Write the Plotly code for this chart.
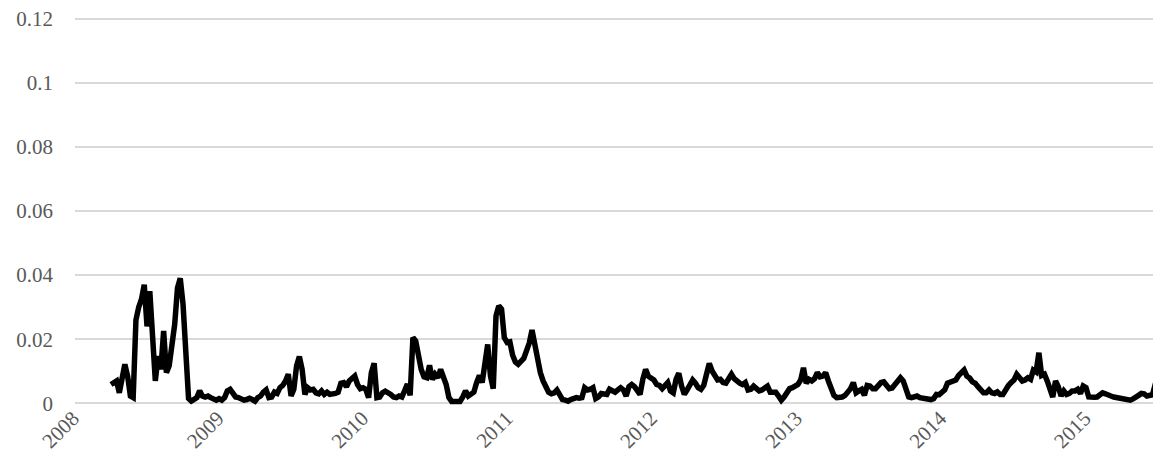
import pandas as pd
import plotly.graph_objects as go

# weekly observations, starting 2008-04-01
start_date = "2008-04-01"

values = [
    # 2008
    0.0059, 0.0065, 0.0070, 0.0033, 0.0085, 0.0122, 0.0085, 0.0023, 0.0018, 0.0260,
    0.0300, 0.0325, 0.0370, 0.0240, 0.0350, 0.0170, 0.0070, 0.0148, 0.0106, 0.0226,
    0.0096, 0.0117, 0.0169, 0.0247, 0.0360, 0.0390, 0.0310, 0.0117, 0.0015, 0.0007,
    0.0012, 0.0018, 0.0039, 0.0023, 0.0020, 0.0023, 0.0018, 0.0015, 0.0010, 0.0015,
    0.0010, 0.0018, 0.0039, 0.0044, 0.0028, 0.0020, 0.0018, 0.0015, 0.0010, 0.0012,
    0.0016, 0.0012,
    # 2009
    0.0007, 0.0018, 0.0023, 0.0035, 0.0042, 0.0018, 0.0020, 0.0035, 0.0031, 0.0049,
    0.0056, 0.0070, 0.0091, 0.0023, 0.0044, 0.0117, 0.0146, 0.0106, 0.0028, 0.0049,
    0.0042, 0.0044, 0.0033, 0.0030, 0.0039, 0.0028, 0.0035, 0.0028, 0.0028, 0.0031,
    0.0035, 0.0063, 0.0065, 0.0052, 0.0070, 0.0080, 0.0085, 0.0059, 0.0046, 0.0049,
    0.0044, 0.0018, 0.0096, 0.0125, 0.0018, 0.0020, 0.0033, 0.0038, 0.0035, 0.0028,
    0.0020, 0.0018, 0.0023, 0.0020, 0.0039, 0.0060,
    # 2010
    0.0025, 0.0205, 0.0195, 0.0150, 0.0106, 0.0083, 0.0080, 0.0119, 0.0075, 0.0091,
    0.0080, 0.0106, 0.0085, 0.0059, 0.0018, 0.0006, 0.0006, 0.0007, 0.0006, 0.0020,
    0.0039, 0.0023, 0.0028, 0.0035, 0.0065, 0.0087, 0.0065, 0.0127, 0.0184, 0.0085,
    0.0046, 0.0273, 0.0304, 0.0294, 0.0205, 0.0190, 0.0192, 0.0150, 0.0129, 0.0122,
    0.0132, 0.0140, 0.0164, 0.0188, 0.0229, 0.0179, 0.0148, 0.0096, 0.0070, 0.0049,
    0.0035, 0.0030, 0.0033, 0.0042, 0.0023, 0.0012,
    # 2011
    0.0010, 0.0007, 0.0012, 0.0016, 0.0018, 0.0016, 0.0018, 0.0049, 0.0042, 0.0044,
    0.0049, 0.0015, 0.0020, 0.0031, 0.0031, 0.0028, 0.0044, 0.0039, 0.0035, 0.0042,
    0.0049, 0.0042, 0.0023, 0.0052, 0.0059, 0.0052, 0.0042, 0.0028, 0.0075, 0.0106,
    0.0085, 0.0077, 0.0073, 0.0059, 0.0056, 0.0046, 0.0054, 0.0065, 0.0039, 0.0033,
    0.0075, 0.0094, 0.0054, 0.0028, 0.0042, 0.0059, 0.0073, 0.0063, 0.0049, 0.0044,
    0.0056, 0.0091, 0.0125, 0.0101, 0.0083, 0.0073,
    # 2012
    0.0075, 0.0065, 0.0063, 0.0077, 0.0091, 0.0077, 0.0067, 0.0063, 0.0059, 0.0065,
    0.0042, 0.0044, 0.0054, 0.0046, 0.0039, 0.0042, 0.0049, 0.0054, 0.0035, 0.0035,
    0.0035, 0.0023, 0.0010, 0.0020, 0.0035, 0.0046, 0.0049, 0.0054, 0.0059, 0.0073,
    0.0111, 0.0063, 0.0075, 0.0070, 0.0077, 0.0096, 0.0083, 0.0085, 0.0096, 0.0070,
    0.0044, 0.0025, 0.0018, 0.0018, 0.0020, 0.0025, 0.0033, 0.0046, 0.0065, 0.0033,
    0.0039, 0.0044, 0.0025, 0.0056, 0.0054, 0.0046,
    # 2013
    0.0046, 0.0054, 0.0065, 0.0067, 0.0059, 0.0046, 0.0048, 0.0059, 0.0070, 0.0080,
    0.0070, 0.0046, 0.0020, 0.0018, 0.0020, 0.0023, 0.0018, 0.0017, 0.0012, 0.0015,
    0.0012, 0.0015, 0.0028, 0.0027, 0.0033, 0.0042, 0.0063, 0.0065, 0.0070, 0.0073,
    0.0087, 0.0098, 0.0104, 0.0085, 0.0079, 0.0067, 0.0063, 0.0052, 0.0042, 0.0033,
    0.0033, 0.0042, 0.0033, 0.0031, 0.0036, 0.0028, 0.0028, 0.0044, 0.0056, 0.0065,
    0.0073, 0.0091, 0.0077, 0.0070, 0.0073, 0.0080,
    # 2014 - 2015
    0.0075, 0.0104, 0.0098, 0.0158, 0.0087, 0.0091, 0.0070, 0.0044, 0.0020, 0.0070,
    0.0052, 0.0023, 0.0039, 0.0028, 0.0031, 0.0039, 0.0039, 0.0044, 0.0031, 0.0054,
    0.0049, 0.0020, 0.0018, 0.0019, 0.0020, 0.0028, 0.0033, 0.0030, 0.0025, 0.0023,
    0.0020, 0.0018, 0.0016, 0.0014, 0.0012, 0.0010, 0.0010, 0.0014, 0.0018, 0.0025,
    0.0031, 0.0030, 0.0023, 0.0023, 0.0027, 0.0059, 0.0063,
]

dates = pd.date_range(start_date, periods=len(values), freq="7D")

y_ticks = [0, 0.02, 0.04, 0.06, 0.08, 0.1, 0.12]

font_family = "Liberation Serif, Times New Roman, serif"
text_color = "#595959"
grid_color = "#d9d9d9"

fig = go.Figure()

fig.add_trace(go.Scatter(
    x=dates,
    y=values,
    mode="lines",
    line=dict(color="black", width=5.5),
    showlegend=False,
))

# page body keeps its default 8px margin, so the figure is 8px smaller
fig.update_layout(
    width=1153,
    height=465,
    margin=dict(l=67, r=3, t=9, b=68),
    paper_bgcolor="white",
    plot_bgcolor="white",
    font=dict(family=font_family, size=21, color=text_color),
)

fig.update_xaxes(
    range=["2008-01-01", dates[-1]],
    type="date",
    tick0="2008-01-01",
    dtick="M12",
    tickformat="%Y",
    tickangle=-45,
    ticklabelshift=-2,
    ticklabelstandoff=-4,
    ticklabeloverflow="allow",
    showgrid=False,
    zeroline=False,
    showline=False,
    ticks="",
    automargin=False,
)

fig.update_yaxes(
    range=[-0.0005, 0.1205],
    tickvals=y_ticks,
    showgrid=True,
    gridcolor=grid_color,
    gridwidth=1.5,
    zeroline=False,
    showline=False,
    ticks="",
    ticklabelstandoff=21,
    ticklabeloverflow="allow",
    automargin=False,
)

fig.write_html("out.html")
